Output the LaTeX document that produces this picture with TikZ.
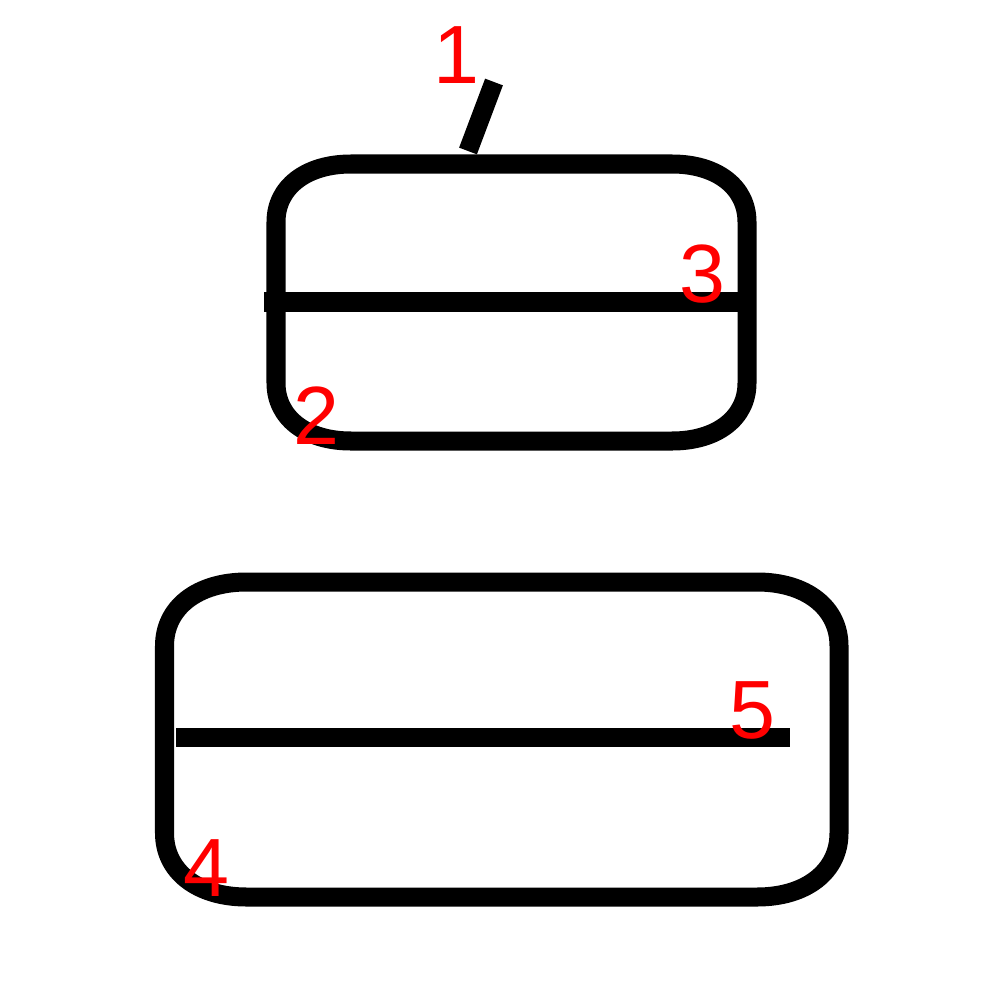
\documentclass[tikz,border=0pt]{standalone}
\usepackage{fontspec}
\setmainfont{Liberation Sans}
% box with elliptic corners: x0, y0, x1, y1, rx, ry
\newcommand{\softbox}[6]{%
  \draw [stroke] (#1+#5,#2) -- (#3-#5,#2)
    .. controls (#3-0.4*#5,#2) and (#3,#2+0.4*#6) .. (#3,#2+#6)
    -- (#3,#4-#6)
    .. controls (#3,#4-0.4*#6) and (#3-0.4*#5,#4) .. (#3-#5,#4)
    -- (#1+#5,#4)
    .. controls (#1+0.4*#5,#4) and (#1,#4-0.4*#6) .. (#1,#4-#6)
    -- (#1,#2+#6)
    .. controls (#1,#2+0.4*#6) and (#1+0.4*#5,#2) .. cycle;}
\begin{document}
\begin{tikzpicture}[x=0.01cm, y=-0.01cm,
        stroke/.style={line width=0.19cm},
        num/.style={text=red, inner sep=0pt, font=\fontsize{23.5}{23.5}\selectfont}]
        \useasboundingbox (0,0) rectangle (1000,1000);
        
        % upper box
        \softbox{276}{164}{747}{441}{75}{58}
        \draw [stroke] (264,302) -- (745,302);
        \draw [stroke] (468,151) -- (494,82);
        
        % lower box
        \softbox{164.5}{582}{839}{897}{82}{64}
        \draw [stroke] (176,737.5) -- (790,737.5);
        
        \node [num] (n1) at (456,55) {1};
        \node [num] (n2) at (316,416) {2};
        \node [num] (n3) at (702,274) {3};
        \node [num] (n4) at (206,868) {4};
        \node [num] (n5) at (752,710) {5};
    \end{tikzpicture}
\end{document}
